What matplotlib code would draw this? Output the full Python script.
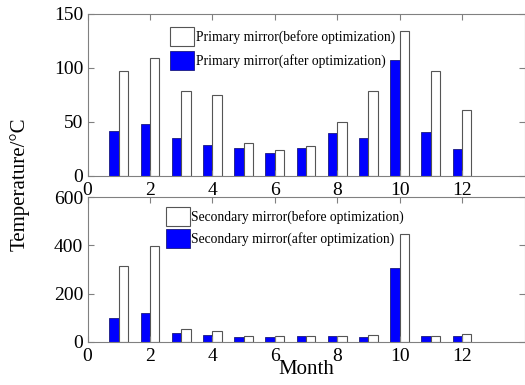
import numpy as np
import matplotlib
matplotlib.use('Agg')
import matplotlib.pyplot as plt

plt.rcParams['font.family'] = ['Liberation Serif', 'DejaVu Serif']

months = np.arange(1, 13)

# primary mirror temperature
primary_before = [97, 109, 79, 75, 31, 24, 28, 50, 79, 134, 97, 61]
primary_after = [42, 48, 35, 29, 26, 21, 26, 40, 35, 107, 41, 25]

# secondary mirror temperature
secondary_before = [313, 397, 54, 45, 26, 26, 26, 26, 30, 448, 26, 32]
secondary_after = [101, 121, 36, 29, 22, 22, 25, 25, 22, 306, 25, 25]

spine_col = '#808080'
w = 0.3

fig = plt.figure(figsize=(5.25, 3.85), dpi=100)
ax1 = fig.add_axes([87.5/525, 1-176/385, 437/525, 162/385])
ax2 = fig.add_axes([87.5/525, 1-342/385, 437/525, 145/385])


def style(ax, yticks):
    ax.set_xlim(0, 14)
    ax.set_xticks([0, 2, 4, 6, 8, 10, 12])
    ax.set_yticks(yticks)
    ax.set_ylim(yticks[0], yticks[-1])
    ax.tick_params(direction='in', top=True, right=True, labelsize=14,
                   color=spine_col, length=4)
    ax.tick_params(axis='y', pad=3)
    ax.tick_params(axis='x', pad=4)
    for s in ax.spines.values():
        s.set_color(spine_col)


ax1.bar(months - w/2, primary_after, w, color='#0000ff', edgecolor='#1a1a80',
        linewidth=0.6, label='Primary mirror(after optimization)')
ax1.bar(months + w/2, primary_before, w, color='white', edgecolor='#555555',
        linewidth=0.8, label='Primary mirror(before optimization)')
style(ax1, [0, 50, 100, 150])
h, l = ax1.get_legend_handles_labels()
ax1.legend(h[::-1], l[::-1], loc='upper left', bbox_to_anchor=(0.17, 0.97),
           frameon=False, fontsize=9.8, handlelength=1.8, handleheight=1.8,
           handletextpad=0.1, labelspacing=0.35, borderaxespad=0.2)

ax2.bar(months - w/2, secondary_after, w, color='#0000ff', edgecolor='#1a1a80',
        linewidth=0.6, label='Secondary mirror(after optimization)')
ax2.bar(months + w/2, secondary_before, w, color='white', edgecolor='#555555',
        linewidth=0.8, label='Secondary mirror(before optimization)')
style(ax2, [0, 200, 400, 600])
h, l = ax2.get_legend_handles_labels()
ax2.legend(h[::-1], l[::-1], loc='upper left', bbox_to_anchor=(0.16, 0.99),
           frameon=False, fontsize=9.8, handlelength=1.8, handleheight=1.8,
           handletextpad=0.1, labelspacing=0.2, borderaxespad=0.2)

ax2.set_xlabel('Month', fontsize=15, labelpad=-3)
fig.text(20/525, 1-184/385, 'Temperature/°C', rotation=90, fontsize=15,
         ha='center', va='center')

fig.savefig('out.png', dpi=100)
